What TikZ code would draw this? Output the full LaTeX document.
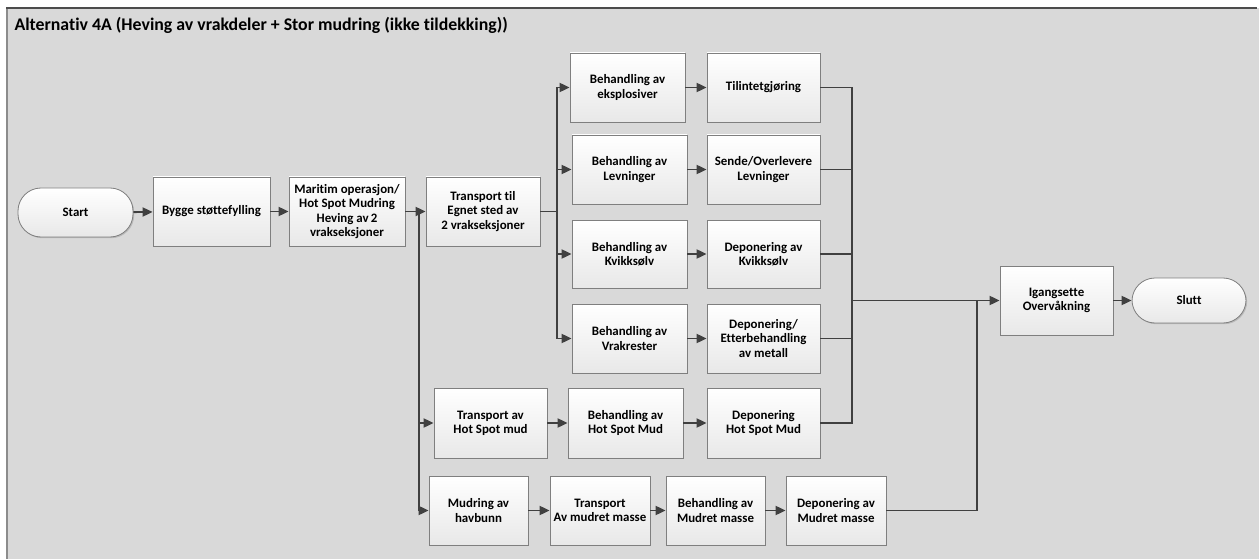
\documentclass[tikz,border=0pt]{standalone}
\usepackage{fontspec}
\setmainfont[Ligatures=NoCommon]{Carlito}
\usetikzlibrary{arrows.meta,shadows}
\definecolor{panelgray}{HTML}{D9D9D9}
\definecolor{edgegray}{HTML}{7F7F7F}
\definecolor{linegray}{HTML}{404040}
\begin{document}
\begin{tikzpicture}[x=1pt,y=-1pt,
  stepbox/.style={draw=edgegray,line width=0.8pt,top color=white,bottom color=black!9,
    drop shadow={shadow xshift=1.2pt,shadow yshift=-1.2pt,opacity=0.35},
    align=center,inner sep=2pt,
    font=\bfseries\fontsize{12.9}{14.2}\selectfont},
  termbox/.style={stepbox,rounded corners=23pt},
  conn/.style={draw=linegray,line width=1.9pt},
  arr/.style={conn,-{Triangle[length=10pt,width=9pt]}}]
\useasboundingbox (0,0) rectangle (1259,559);
% background panel
\fill[white] (0,0) rectangle (1259,559);
\fill[panelgray] (7,8) rectangle (1259,559);
\draw[black!45,line width=2pt] (7,559) -- (7,8);
\draw[black!70,line width=1.3pt] (6,8) -- (1257,8);
\node[anchor=west,font=\bfseries\fontsize{17.8}{20}\selectfont] (title) at (11,25)
  {Alternativ 4A (Heving av vrakdeler + Stor mudring (ikke tildekking))};

% main line
\node[termbox,minimum width=115pt,minimum height=49pt] (start) at (75.5,212.5) {Start};
\node[stepbox,minimum width=117pt,minimum height=69pt] (bygge) at (211.5,211.5) {Bygge støttefylling};
\node[stepbox,minimum width=116pt,minimum height=69pt] (mar) at (347,211.5)
  {Maritim operasjon/\\Hot Spot Mudring\\Heving av\,2\\vrakseksjoner};
\node[stepbox,minimum width=114pt,minimum height=69pt] (trans) at (483,211.5)
  {Transport til\\Egnet sted av\\2 vrakseksjoner};

% wreck branches
\node[stepbox,minimum width=115pt,minimum height=69pt] (beh1) at (627.5,87.5) {Behandling av\\eksplosiver};
\node[stepbox,minimum width=113pt,minimum height=69pt] (dep1) at (763.5,87.5) {Tilintetgjøring};
\node[stepbox,minimum width=115pt,minimum height=69pt] (beh2) at (629.5,169.5) {Behandling av\\Levninger};
\node[stepbox,minimum width=113pt,minimum height=69pt] (dep2) at (763.5,169.5) {Sende/Overlevere\\Levninger};
\node[stepbox,minimum width=115pt,minimum height=68pt] (beh3) at (629.5,254) {Behandling av\\Kvikksølv};
\node[stepbox,minimum width=113pt,minimum height=68pt] (dep3) at (763.5,254) {Deponering av\\Kvikksølv};
\node[stepbox,minimum width=115pt,minimum height=69pt] (beh4) at (629.5,338.5) {Behandling av\\Vrakrester};
\node[stepbox,minimum width=113pt,minimum height=69pt] (dep4) at (763.5,338.5) {Deponering/\\Etterbehandling\\av metall};

% hot spot mud branch
\node[stepbox,minimum width=113pt,minimum height=70pt] (thm) at (490.5,423) {Transport av\\Hot Spot mud};
\node[stepbox,minimum width=115pt,minimum height=70pt] (bhm) at (625.5,423) {Behandling av\\Hot Spot Mud};
\node[stepbox,minimum width=113pt,minimum height=70pt] (dhm) at (763.5,423) {Deponering\\Hot Spot Mud};

% dredging branch
\node[stepbox,minimum width=99pt,minimum height=69pt] (mud) at (478.5,510.5) {Mudring av\\havbunn};
\node[stepbox,minimum width=100pt,minimum height=69pt] (tmm) at (600,510.5) {Transport\\Av mudret masse};
\node[stepbox,minimum width=99pt,minimum height=69pt] (bmm) at (715.5,510.5) {Behandling av\\Mudret masse};
\node[stepbox,minimum width=100pt,minimum height=69pt] (dmm) at (836,510.5) {Deponering av\\Mudret masse};

% end
\node[stepbox,minimum width=113pt,minimum height=69pt] (ig) at (1056.5,300.5) {Igangsette\\Overvåkning};
\node[termbox,minimum width=114pt,minimum height=45pt] (slutt) at (1189,300.5) {Slutt};

% junctions
\coordinate (j1) at (419,211.5);
\coordinate (j2) at (557,211.5);
\coordinate (j3) at (852,300.5);
\coordinate (j4) at (977,300.5);

% connectors
\draw[arr] (start) -- (bygge);
\draw[arr] (bygge) -- (mar);
\draw[arr] (mar) -- (trans);
\draw[arr] (j1) |- (thm.west);
\draw[arr] (j1) |- (mud.west);
\draw[conn] (trans) -- (j2);
\draw[arr] (j2) |- (beh1.west);
\draw[arr] (j2) |- (beh2.west);
\draw[arr] (j2) |- (beh3.west);
\draw[arr] (j2) |- (beh4.west);
\draw[arr] (beh1) -- (dep1);
\draw[arr] (beh2) -- (dep2);
\draw[arr] (beh3) -- (dep3);
\draw[arr] (beh4) -- (dep4);
\draw[arr] (thm) -- (bhm);
\draw[arr] (bhm) -- (dhm);
\draw[arr] (mud) -- (tmm);
\draw[arr] (tmm) -- (bmm);
\draw[arr] (bmm) -- (dmm);
\draw[conn] (dep1.east) -| (j3);
\draw[conn] (dep2.east) -| (j3);
\draw[conn] (dep3.east) -| (j3);
\draw[conn] (dep4.east) -| (j3);
\draw[conn] (dhm.east) -| (j3);
\draw[conn] (dmm.east) -| (j4);
\draw[arr] (j3) -- (ig);
\draw[arr] (ig) -- (slutt);
\end{tikzpicture}
\end{document}
